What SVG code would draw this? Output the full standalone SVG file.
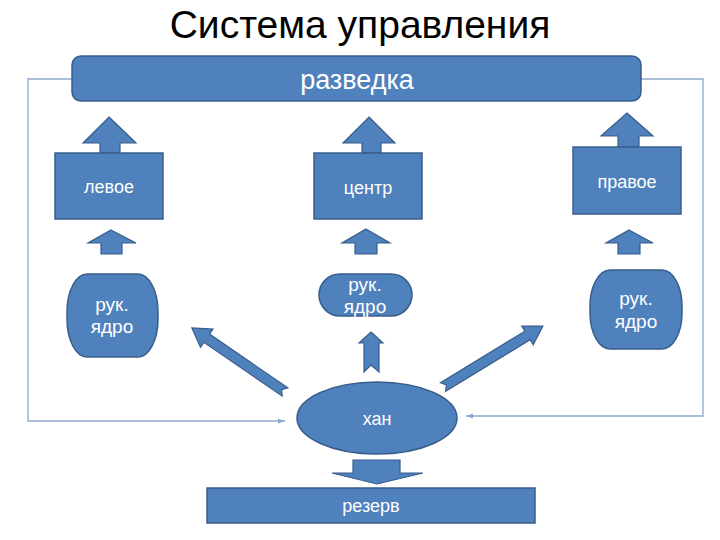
<svg xmlns="http://www.w3.org/2000/svg" width="720" height="540" viewBox="0 0 720 540">
<defs>
<style>
.n{fill:#4F81BD;stroke:#385D8A;stroke-width:1.5}
.a{fill:#4F81BD;stroke:#385D8A;stroke-width:1.2}
.t{fill:#fff;font-family:"Liberation Sans",Arial,sans-serif;text-anchor:middle}
.fb{fill:none;stroke:#8EA9CE;stroke-width:1.3}
</style>
<marker id="ah" markerWidth="8" markerHeight="6" refX="7" refY="3" orient="auto" markerUnits="userSpaceOnUse">
<path d="M0,0.5 L7,3 L0,5.5 Z" fill="#8EA9CE"/>
</marker>
</defs>
<rect width="720" height="540" fill="#fff"/>
<text x="360" y="38" font-family="Liberation Sans,Arial,sans-serif" font-size="39" text-anchor="middle" fill="#000">Система управления</text>

<g id="connectors">
<path class="fb" d="M72,79 H28 V421 H285" marker-end="url(#ah)"/>
<path class="fb" d="M641,79 H703 V416 H466" marker-end="url(#ah)"/>
<polygon class="a" points="109,117 136,143 120,143 120,153 100,153 100,143 83,143"/>
<polygon class="a" points="369,117 395,143 381,143 381,153 362,153 362,143 343,143"/>
<polygon class="a" points="627,113 653,136 639,136 639,147 618,147 618,136 601,136"/>
<polygon class="a" points="111,230 136,243 122,243 122,254 101,254 101,243 88,243"/>
<polygon class="a" points="366,229 390,243 377,243 377,254 355,254 355,243 342,243"/>
<polygon class="a" points="629,230 653,243 640,243 640,254 618,254 618,243 606,243"/>
<polygon class="a" points="371,332 383,343 379,343 379,372 371,365 364,372 364,343 359,343"/>
<polygon class="a" points="0,-5 95,-5 95,-11 113,0 95,11 95,5 0,5 4,0" transform="translate(285,392) rotate(214.5)"/>
<polygon class="a" points="0,-5 99,-5 99,-11 117,0 99,11 99,5 0,5 4,0" transform="translate(443,387) rotate(-31.4)"/>
<polygon class="a" points="353,460 400,460 400,473 423,473 377,484 332,473 353,473"/>
</g>

<g id="razvedka"><rect class="n" x="72" y="56" width="569" height="45" rx="9"/><text class="t" x="357" y="89" font-size="27">разведка</text></g>
<g id="levoe"><rect class="n" x="55" y="153" width="108" height="66"/><text class="t" x="109" y="193" font-size="18">левое</text></g>
<g id="centr"><rect class="n" x="314" y="153" width="108" height="66"/><text class="t" x="368" y="194" font-size="18">центр</text></g>
<g id="pravoe"><rect class="n" x="573" y="147" width="108" height="67"/><text class="t" x="627" y="188" font-size="18">правое</text></g>
<g id="yadro-left"><rect class="n" x="67" y="274" width="91" height="83" rx="20" ry="38"/><text class="t" font-size="19"><tspan x="112" y="311">рук.</tspan><tspan x="112" y="333">ядро</tspan></text></g>
<g id="yadro-center"><rect class="n" x="319" y="274" width="93" height="42" rx="21"/><text class="t" font-size="19"><tspan x="365" y="291">рук.</tspan><tspan x="365" y="313">ядро</tspan></text></g>
<g id="yadro-right"><rect class="n" x="590" y="270" width="92" height="79" rx="20" ry="36"/><text class="t" font-size="19"><tspan x="636" y="305">рук.</tspan><tspan x="636" y="328">ядро</tspan></text></g>
<g id="khan"><ellipse class="n" cx="377" cy="418" rx="80" ry="36"/><text class="t" x="377" y="425" font-size="18">хан</text></g>
<g id="rezerv"><rect class="n" x="207" y="488" width="328" height="35"/><text class="t" x="371" y="512" font-size="18">резерв</text></g>
</svg>
